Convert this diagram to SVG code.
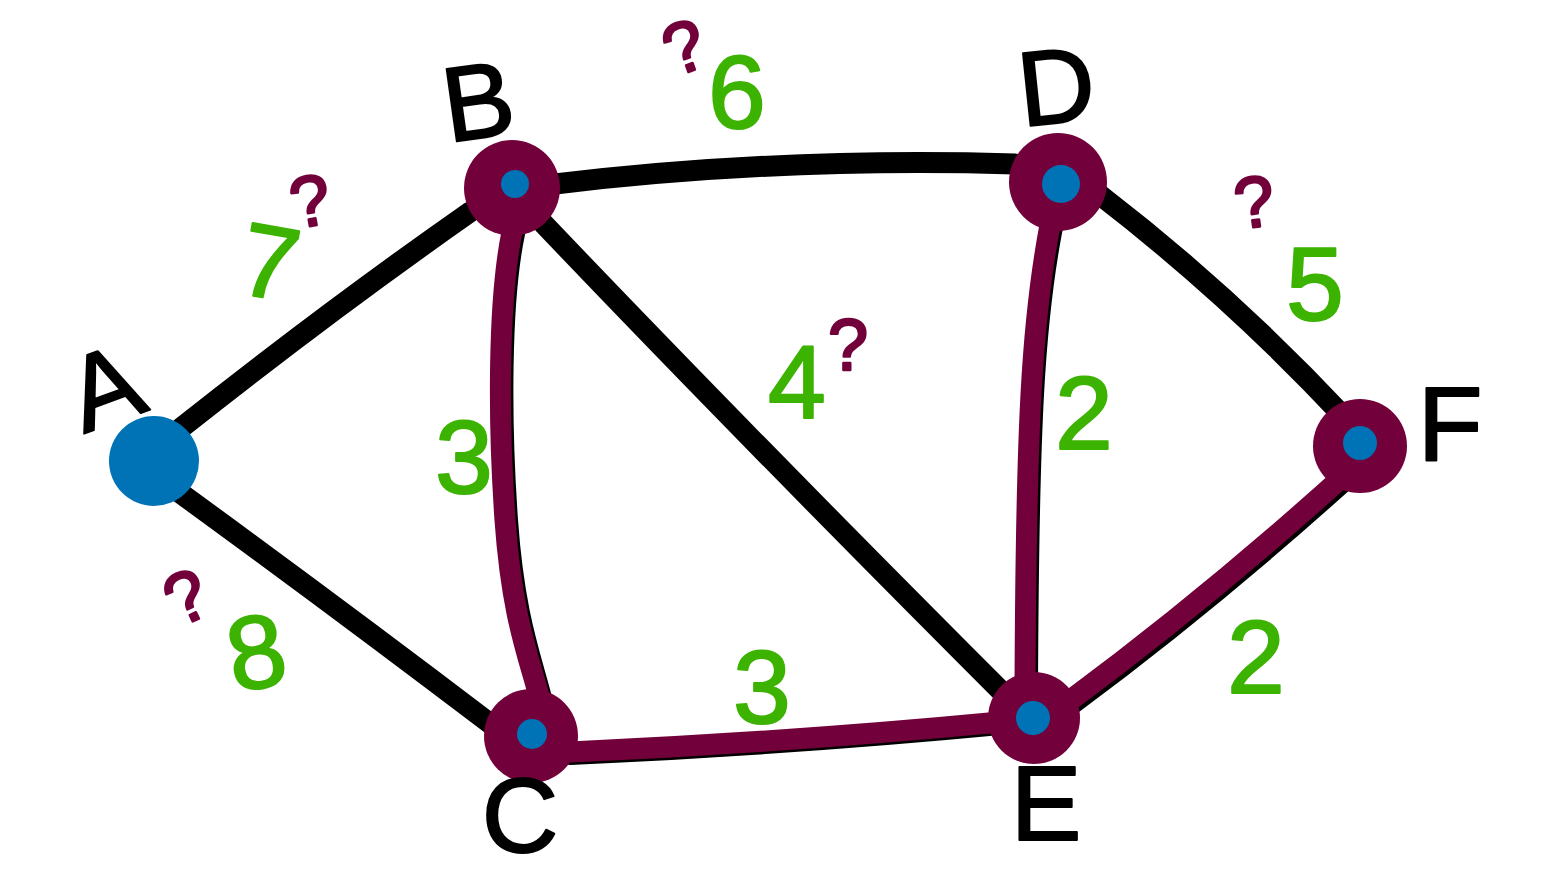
<svg xmlns="http://www.w3.org/2000/svg" width="1561" height="872" viewBox="0 0 1561 872">
<style>
.e{fill:none;stroke:#000;stroke-width:21;stroke-linecap:round;stroke-linejoin:round}
.m{fill:none;stroke:#72003a;stroke-width:21;stroke-linecap:round;stroke-linejoin:round}
.sh{fill:none;stroke:#000;stroke-width:18;stroke-linecap:round;stroke-linejoin:round}
.n{fill:#72003a}
.b{fill:#0073b7}
.lbl{font-family:"Liberation Sans",sans-serif;font-size:106px;fill:#000;stroke:#000;stroke-width:2;stroke-linejoin:round;text-anchor:middle}
.num{font-family:"Liberation Sans",sans-serif;font-size:104px;fill:#3cb300;stroke:#3cb300;stroke-width:2;stroke-linejoin:round;text-anchor:middle}
.q{font-family:"Liberation Sans",sans-serif;font-size:72px;fill:#72003a;stroke:#72003a;stroke-width:2.5;stroke-linejoin:round;text-anchor:middle}
</style>
<rect width="1561" height="872" fill="#fff"/>
<g id="connectors">
<path class="e" d="M181,428 Q330,310 470,212"/>
<path class="e" d="M172,487 Q330,602 492,725"/>
<path class="e" d="M555,184 Q780,157 1015,164"/>
<path class="e" d="M540,220 Q740,430 1010,700"/>
<path class="e" d="M1100,195 Q1230,295 1345,418"/>
<path class="sh" d="M516,234 C502,300 502,420 509,520 S534,660 544,702"/>
<path class="sh" d="M1054,227 C1036,320 1030,420 1029,692"/>
<path class="sh" d="M570,756 Q790,746 1000,726"/>
<path class="sh" d="M1072,706 Q1215,600 1354,474"/>
<path class="m" d="M512,232 C498,300 498,420 505,520 S530,660 540,700"/>
<path class="m" d="M1050,225 C1032,320 1026,420 1025,690"/>
<path class="m" d="M570,752 Q790,742 1000,722"/>
<path class="m" d="M1068,702 Q1211,596 1350,470"/>
</g>
<g id="node-A">
<circle class="b" cx="154" cy="461" r="45"/>
<text class="lbl" x="104" y="424" transform="rotate(-20 104 385)">A</text>
</g>
<g id="node-B">
<circle class="n" cx="512" cy="188" r="48"/>
<circle class="b" cx="515" cy="184" r="14"/>
<text class="lbl" x="478" y="138" transform="rotate(-8 478 100)">B</text>
</g>
<g id="node-C">
<circle class="n" cx="531" cy="736" r="47"/>
<circle class="b" cx="532" cy="734" r="15"/>
<text class="lbl" x="520" y="852">C</text>
</g>
<g id="node-D">
<circle class="n" cx="1058" cy="182" r="49"/>
<circle class="b" cx="1061" cy="184" r="19"/>
<text class="lbl" x="1056" y="123" transform="rotate(-6 1056 85)">D</text>
</g>
<g id="node-E">
<circle class="n" cx="1034" cy="718" r="46"/>
<circle class="b" cx="1033" cy="718" r="17"/>
<text class="lbl" x="1046" y="840">E</text>
</g>
<g id="node-F">
<circle class="n" cx="1360" cy="446" r="47"/>
<circle class="b" cx="1360" cy="443" r="17"/>
<text class="lbl" x="1450" y="461">F</text>
</g>
<g id="weights">
<text class="num" x="270" y="298" transform="rotate(10 270 260)">7</text>
<text class="num" x="737" y="128">6</text>
<text class="num" x="797" y="418">4</text>
<text class="num" x="1315" y="320">5</text>
<text class="num" x="1084" y="449">2</text>
<text class="num" x="464" y="493">3</text>
<text class="num" x="762" y="723">3</text>
<text class="num" x="256" y="688" transform="rotate(-10 256 650)">8</text>
<text class="num" x="1256" y="693">2</text>
<text class="q" x="310" y="226" transform="rotate(-10 310 200)">?</text>
<text class="q" x="684" y="72" transform="rotate(-20 684 46)">?</text>
<text class="q" x="848" y="370">?</text>
<text class="q" x="1254" y="227" transform="rotate(-8 1254 200)">?</text>
<text class="q" x="186" y="622" transform="rotate(-25 186 596)">?</text>
</g>
</svg>
